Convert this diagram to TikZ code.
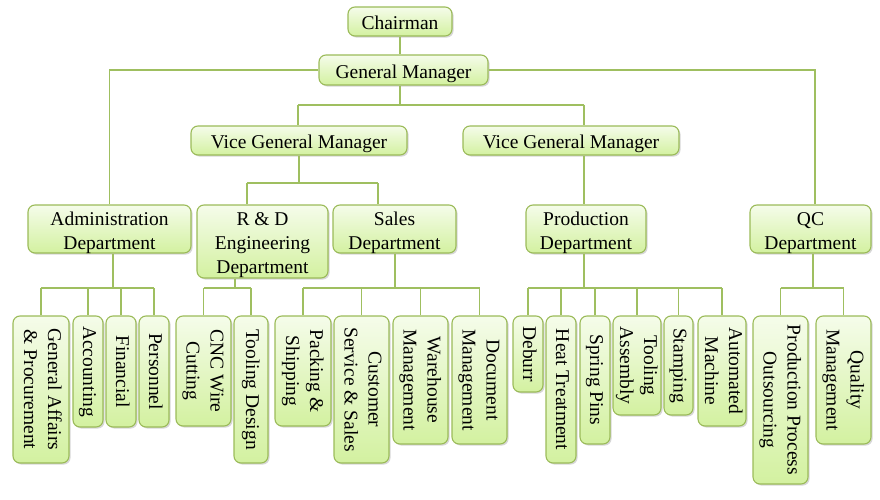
\documentclass[tikz,border=0pt]{standalone}
\usepackage{fontspec}
\setmainfont{Liberation Serif}
\usetikzlibrary{shadows}
\definecolor{bordergreen}{HTML}{9BBB59}
\definecolor{linegreen}{HTML}{9FBF60}
\definecolor{filltop}{HTML}{F5FCEA}
\definecolor{fillbot}{HTML}{D3F1A0}
\newcommand\orgfont{\fontsize{19.5}{24}\selectfont}
\newcommand\vtext[1]{\rotatebox{-90}{\begin{tabular}{@{}c@{}}#1\end{tabular}}}
\newcommand\htext[1]{\raisebox{-3.5pt}[\height][\depth]{\begin{tabular}{@{}c@{}}#1\end{tabular}}}
\begin{document}
\begin{tikzpicture}[x=1pt,y=-1pt,
  orgbox/.style={draw=bordergreen, line width=1.1pt, rounded corners=7pt,
    top color=filltop, bottom color=fillbot,
    drop shadow={shadow xshift=1.6pt, shadow yshift=-1.6pt, fill=black!45, opacity=0.35},
    inner sep=0pt, align=center, font=\orgfont},
  conn/.style={draw=linegreen, line width=1.4pt}]
\useasboundingbox (0,0) rectangle (880,500);
% top levels
\node[orgbox, minimum width=104pt, minimum height=29pt] (chair) at (400,21.5) {\htext{Chairman}};
\node[orgbox, minimum width=169pt, minimum height=30pt] (gm) at (403.5,70) {\htext{General Manager}};
\node[orgbox, minimum width=216pt, minimum height=29pt] (vgm1) at (299,140.5) {\htext{Vice General Manager}};
\node[orgbox, minimum width=216pt, minimum height=29pt] (vgm2) at (571,140.5) {\htext{Vice General Manager}};
% departments
\node[orgbox, minimum width=163pt, minimum height=48pt] (admin) at (109.5,229) {\htext{Administration\\Department}};
\node[orgbox, minimum width=131pt, minimum height=73pt] (rd) at (262.5,241.5) {\htext{R \& D\\Engineering\\Department}};
\node[orgbox, minimum width=123pt, minimum height=48pt] (sales) at (394.5,229) {\htext{Sales\\Department}};
\node[orgbox, minimum width=120pt, minimum height=48pt] (prod) at (586,229) {\htext{Production\\Department}};
\node[orgbox, minimum width=121pt, minimum height=48pt] (qc) at (810.5,229) {\htext{QC\\Department}};
% leaves
\node[orgbox, minimum width=56pt, minimum height=147pt] (ga) at (41,389.5) {\vtext{General Affairs\\\& Procurement}};
\node[orgbox, minimum width=30pt, minimum height=111pt] (acc) at (88,371.5) {\vtext{Accounting}};
\node[orgbox, minimum width=30pt, minimum height=111pt] (fin) at (121,371.5) {\vtext{Financial}};
\node[orgbox, minimum width=30pt, minimum height=111pt] (per) at (154,371.5) {\vtext{Personnel}};
\node[orgbox, minimum width=55pt, minimum height=110pt] (cnc) at (203.5,371) {\vtext{CNC Wire\\Cutting}};
\node[orgbox, minimum width=34pt, minimum height=147pt] (td) at (251,389.5) {\vtext{Tooling Design}};
\node[orgbox, minimum width=56pt, minimum height=110pt] (pack) at (303,371) {\vtext{Packing \&\\Shipping}};
\node[orgbox, minimum width=55pt, minimum height=147pt] (cust) at (361.5,389.5) {\vtext{Customer\\Service \& Sales}};
\node[orgbox, minimum width=55pt, minimum height=128pt] (ware) at (420.5,380) {\vtext{Warehouse\\Management}};
\node[orgbox, minimum width=55pt, minimum height=128pt] (doc) at (479.5,380) {\vtext{Document\\Management}};
\node[orgbox, minimum width=30pt, minimum height=76pt] (deb) at (528,354) {\vtext{Deburr}};
\node[orgbox, minimum width=30pt, minimum height=147pt] (heat) at (561,389.5) {\vtext{Heat Treatment}};
\node[orgbox, minimum width=30pt, minimum height=128pt] (spring) at (595,380) {\vtext{Spring Pins}};
\node[orgbox, minimum width=48pt, minimum height=99pt] (tass) at (637,365.5) {\vtext{Tooling\\Assembly}};
\node[orgbox, minimum width=29pt, minimum height=99pt] (stamp) at (678.5,365.5) {\vtext{Stamping}};
\node[orgbox, minimum width=48pt, minimum height=110pt] (auto) at (722,371) {\vtext{Automated\\Machine}};
\node[orgbox, minimum width=55pt, minimum height=168pt] (ppo) at (780.5,400) {\vtext{Production Process\\Outsourcing}};
\node[orgbox, minimum width=55pt, minimum height=128pt] (qm) at (843.5,380) {\vtext{Quality\\Management}};
% junction coordinates
\coordinate (j0) at (400,105);
\coordinate (b1l) at (298,105);
\coordinate (b1r) at (584,105);
\coordinate (b2l) at (247,183);
\coordinate (b2r) at (378,183);
\coordinate (qcx) at (815,70);
\coordinate (ab) at (113,288);
\coordinate (rb) at (235,288);
\coordinate (sb) at (395,288);
\coordinate (pb) at (584,288);
\coordinate (qb) at (813,288);
% connectors
\draw[conn] (chair.south) -- (chair.south |- gm.north);
\draw[conn] (gm.west) -| (admin.north);
\draw[conn] (gm.east) -- (qcx) -- (qcx |- qc.north);
\draw[conn] (gm.south -| j0) -- (j0);
\draw[conn] (b1l) -- (b1r);
\draw[conn] (b1l) -- (b1l |- vgm1.north);
\draw[conn] (b1r) -- (b1r |- vgm2.north);
\draw[conn] (vgm1.south) -- (vgm1.south |- b2l);
\draw[conn] (b2l) -- (b2r);
\draw[conn] (b2l) -- (b2l |- rd.north);
\draw[conn] (b2r) -- (b2r |- sales.north);
\draw[conn] (b1r |- vgm2.south) -- (b1r |- prod.north);
% admin
\draw[conn] (ab |- admin.south) -- (ab);
\draw[conn] (ga.north |- ab) -- (per.north |- ab);
\foreach \n in {ga,acc,fin,per} \draw[conn] (\n.north |- ab) -- (\n.north);
% R&D
\draw[conn] (rb |- rd.south) -- (rb);
\draw[conn] (cnc.north |- rb) -- (td.north |- rb);
\foreach \n in {cnc,td} \draw[conn] (\n.north |- rb) -- (\n.north);
% sales
\draw[conn] (sb |- sales.south) -- (sb);
\draw[conn] (pack.north |- sb) -- (doc.north |- sb);
\foreach \n in {pack,cust,ware,doc} \draw[conn] (\n.north |- sb) -- (\n.north);
% production
\draw[conn] (pb |- prod.south) -- (pb);
\draw[conn] (deb.north |- pb) -- (auto.north |- pb);
\foreach \n in {deb,heat,spring,tass,stamp,auto} \draw[conn] (\n.north |- pb) -- (\n.north);
% QC
\draw[conn] (qb |- qc.south) -- (qb);
\draw[conn] (ppo.north |- qb) -- (qm.north |- qb);
\foreach \n in {ppo,qm} \draw[conn] (\n.north |- qb) -- (\n.north);
\end{tikzpicture}
\end{document}
